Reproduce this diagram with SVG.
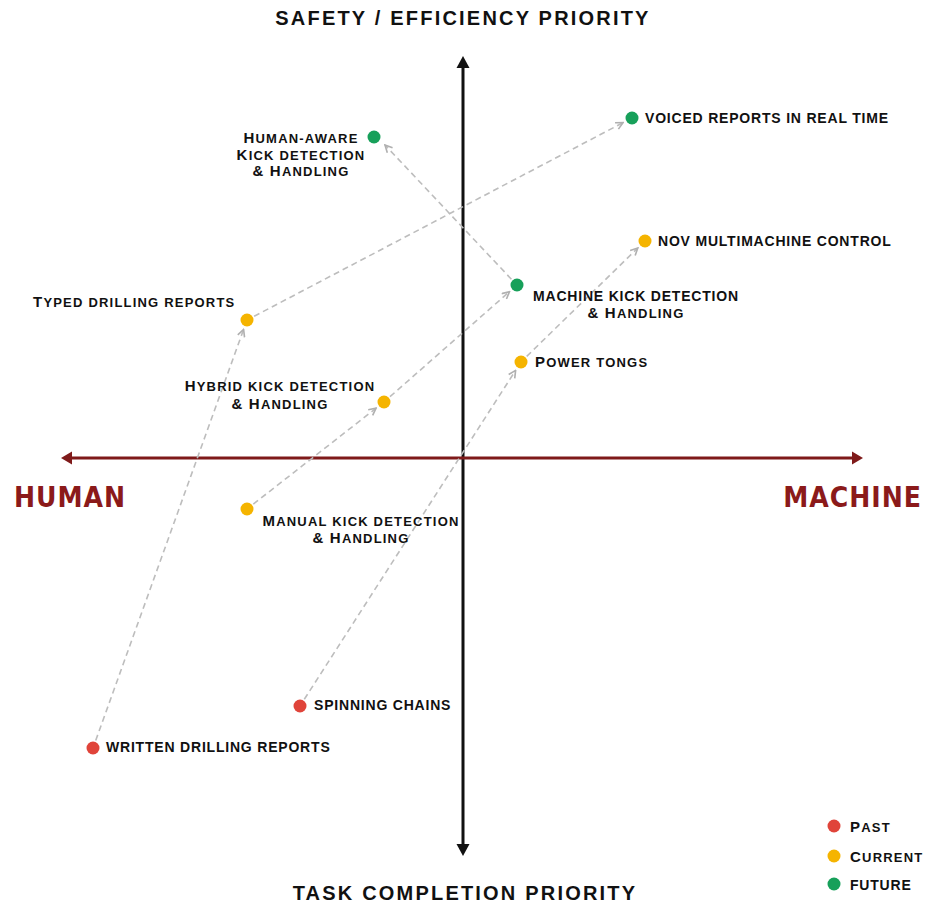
<svg xmlns="http://www.w3.org/2000/svg" width="927" height="906" viewBox="0 0 927 906">
<defs>
<style>
.lbl{font-family:"Liberation Sans",Arial,sans-serif;font-weight:bold;font-size:14px;letter-spacing:0.8px;fill:#111}
.scl{font-size:15px;letter-spacing:1.2px}
.sc{font-size:13px;text-transform:uppercase}
.ttl{font-family:"Liberation Sans",Arial,sans-serif;font-weight:bold;font-size:20px;letter-spacing:2.2px;fill:#111}
.big{font-family:"Liberation Sans Narrow","DejaVu Sans Condensed",sans-serif;font-stretch:condensed;font-weight:bold;font-size:28px;letter-spacing:1px;fill:#8b1a1a}
.conn{stroke:#bdbdbd;stroke-width:1.6;stroke-dasharray:6 4;fill:none;marker-end:url(#arr)}
.past{fill:#e0443a}.cur{fill:#f5b400}.fut{fill:#17a05a}
</style>
<marker id="arr" viewBox="0 0 10 10" refX="9" refY="5" markerWidth="9" markerHeight="9" markerUnits="userSpaceOnUse" orient="auto">
<path d="M1,1 L9,5 L1,9" fill="none" stroke="#b0b0b0" stroke-width="1.8"/>
</marker>
</defs>
<rect width="927" height="906" fill="#fff"/>
<g id="axes">
<line x1="463" y1="66" x2="463" y2="846" stroke="#111" stroke-width="3"/>
<polygon points="463,56 456.5,68 469.5,68" fill="#111"/>
<polygon points="463,856 456.5,844 469.5,844" fill="#111"/>
<line x1="70" y1="458" x2="854" y2="458" stroke="#7f1a1a" stroke-width="3"/>
<polygon points="61,458 72,451.5 72,464.5" fill="#7f1a1a"/>
<polygon points="863,458 852,451.5 852,464.5" fill="#7f1a1a"/>
<text class="ttl" x="463" y="25" text-anchor="middle">SAFETY / EFFICIENCY PRIORITY</text>
<text class="ttl" x="465" y="900" text-anchor="middle">TASK COMPLETION PRIORITY</text>
<text class="big" x="14" y="507">HUMAN</text>
<text class="big" x="922" y="507" text-anchor="end">MACHINE</text>
</g>
<g id="connectors">
<line class="conn" x1="95.7" y1="740.5" x2="243.6" y2="329.4"/>
<line class="conn" x1="254.1" y1="316.3" x2="623.1" y2="122.6"/>
<line class="conn" x1="304.3" y1="699.3" x2="515.6" y2="370.4"/>
<line class="conn" x1="526.7" y1="356.4" x2="637.8" y2="248"/>
<line class="conn" x1="253.3" y1="504.1" x2="376.1" y2="408.2"/>
<line class="conn" x1="390" y1="396.7" x2="509.5" y2="291.6"/>
<line class="conn" x1="511.4" y1="279.2" x2="385" y2="145"/>
</g>
<g id="human-aware"><circle class="fut" cx="374" cy="137" r="6.5"/>
<text class="lbl scl" x="301" y="143" text-anchor="middle">H<tspan class="sc">uman-aware</tspan></text>
<text class="lbl scl" x="301" y="160" text-anchor="middle">K<tspan class="sc">ick detection</tspan></text>
<text class="lbl scl" x="301" y="176" text-anchor="middle">&amp; H<tspan class="sc">andling</tspan></text></g>
<g id="voiced"><circle class="fut" cx="632" cy="118" r="6.5"/><text class="lbl" x="645" y="123">VOICED REPORTS IN REAL TIME</text></g>
<g id="nov"><circle class="cur" cx="645" cy="241" r="6.5"/><text class="lbl" x="658" y="246">NOV MULTIMACHINE CONTROL</text></g>
<g id="machine-kick"><circle class="fut" cx="517" cy="285" r="6.5"/>
<text class="lbl" x="636" y="301" text-anchor="middle">MACHINE KICK DETECTION</text>
<text class="lbl scl" x="636" y="318" text-anchor="middle">&amp; H<tspan class="sc">andling</tspan></text></g>
<g id="typed"><circle class="cur" cx="247" cy="320" r="6.5"/><text class="lbl scl" x="33" y="307">T<tspan class="sc">yped drilling reports</tspan></text></g>
<g id="power-tongs"><circle class="cur" cx="521" cy="362" r="6.5"/><text class="lbl scl" x="535" y="367">P<tspan class="sc">ower tongs</tspan></text></g>
<g id="hybrid"><circle class="cur" cx="384" cy="402" r="6.5"/>
<text class="lbl scl" x="280" y="391" text-anchor="middle">H<tspan class="sc">ybrid kick detection</tspan></text>
<text class="lbl scl" x="280" y="409" text-anchor="middle">&amp; H<tspan class="sc">andling</tspan></text></g>
<g id="manual"><circle class="cur" cx="247" cy="509" r="6.5"/>
<text class="lbl scl" x="361" y="526" text-anchor="middle">M<tspan class="sc">anual kick detection</tspan></text>
<text class="lbl scl" x="361" y="543" text-anchor="middle">&amp; H<tspan class="sc">andling</tspan></text></g>
<g id="spinning"><circle class="past" cx="300" cy="706" r="6.5"/><text class="lbl" x="314" y="710">SPINNING CHAINS</text></g>
<g id="written"><circle class="past" cx="93" cy="748" r="6.5"/><text class="lbl" x="106" y="752">WRITTEN DRILLING REPORTS</text></g>
<g id="legend">
<circle class="past" cx="834" cy="826" r="6.5"/><text class="lbl scl" x="850" y="832">P<tspan class="sc">ast</tspan></text>
<circle class="cur" cx="834" cy="856" r="6.5"/><text class="lbl scl" x="850" y="862">C<tspan class="sc">urrent</tspan></text>
<circle class="fut" cx="834" cy="884" r="6.5"/><text class="lbl" x="850" y="890">FUTURE</text>
</g>
</svg>
